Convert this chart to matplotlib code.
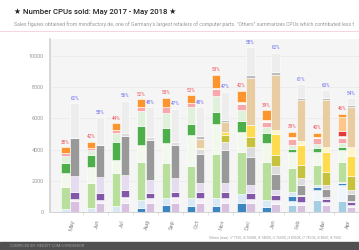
import matplotlib.pyplot as plt
from matplotlib.lines import Line2D
from matplotlib.patches import Rectangle
import numpy as np

months = ['May', 'Jun', 'Jul', 'Aug', 'Sep', 'Oct', 'Nov', 'Dec', 'Jan', 'Feb', 'Mar', 'Apr']

# AMD models, bottom -> top
r5_2400g = [0, 0, 0, 0, 0, 0, 0, 0, 0, 450, 760, 740]
r3_2200g = [0, 0, 0, 0, 0, 0, 0, 0, 0, 290, 680, 1000]
r3_1200 = [0, 0, 0, 255, 465, 430, 400, 600, 360, 300, 160, 110]
r5_1400 = [210, 250, 400, 535, 425, 460, 495, 570, 425, 280, 150, 100]
r5_1600 = [1390, 1640, 2090, 2450, 2240, 2070, 2830, 2700, 2450, 1500, 1300, 1280]
r5_1600x = [890, 1020, 850, 1060, 1270, 1950, 1900, 1280, 1200, 1010, 820, 750]
r7_1700 = [680, 750, 1130, 1210, 960, 700, 810, 700, 650, 210, 230, 210]
r7_1700x = [430, 320, 575, 960, 1000, 1100, 1000, 680, 350, 260, 240, 210]
r7_1800x = [170, 110, 210, 275, 385, 275, 430, 370, 320, 400, 380, 330]
tr_1950x = [0, 0, 0, 0, 0, 0, 70, 160, 150, 90, 70, 140]
r7_2700x = [0, 0, 0, 0, 0, 0, 0, 0, 0, 0, 0, 340]
r5_2600x = [0, 0, 0, 0, 0, 0, 0, 0, 0, 0, 0, 900]
amd_others = [380, 420, 430, 490, 575, 505, 840, 700, 600, 360, 300, 170]

# Intel models, bottom -> top
g4560 = [700, 575, 575, 575, 575, 610, 575, 600, 530, 450, 470, 360]
i3_7100 = [130, 230, 425, 325, 425, 290, 325, 280, 250, 180, 200, 110]
i5_7400 = [450, 450, 425, 320, 320, 370, 420, 380, 350, 400, 200, 200]
i5_7500 = [1040, 1000, 960, 850, 850, 580, 530, 480, 300, 70, 130, 30]
i7_7700k = [2400, 2050, 2500, 2550, 2130, 1870, 2130, 1800, 1000, 650, 500, 450]
i5_7600k = [0, 0, 150, 210, 210, 300, 530, 640, 500, 430, 250, 270]
i5_8400 = [0, 0, 0, 0, 0, 0, 420, 640, 700, 870, 850, 900]
i5_8600k = [0, 0, 0, 0, 0, 110, 170, 750, 1400, 1250, 1270, 1280]
i3_8100 = [0, 0, 0, 0, 0, 0, 0, 0, 250, 280, 320, 590]
i7_8700k = [0, 0, 0, 0, 0, 550, 640, 3030, 3500, 2600, 2980, 2510]
i7_8700 = [0, 0, 0, 0, 0, 170, 150, 160, 170, 100, 110, 150]
intel_others = [2240, 1765, 2090, 1875, 2090, 1850, 1810, 1790, 1230, 900, 530, 430]

amd_pct = [38, 42, 44, 52, 53, 52, 53, 42, 39, 39, 40, 46]
intel_pct = [62, 58, 56, 48, 47, 48, 47, 58, 62, 61, 60, 54]

amd_stack = [
    (r5_2400g, '#a6cee3'), (r3_2200g, '#eef5fb'), (r3_1200, '#3b86c0'),
    (r5_1400, '#d9e8f5'), (r5_1600, '#b8e09c'), (r5_1600x, '#f2f9ec'),
    (r7_1700, '#4daf4a'), (r7_1700x, '#dff1da'), (r7_1800x, '#f7a8ab'),
    (tr_1950x, '#fafafa'), (r7_2700x, '#e2393c'), (r5_2600x, '#fdc78a'),
    (amd_others, '#fd952f'),
]
intel_stack = [
    (g4560, '#d7c0e0'), (i3_7100, '#f5f0f8'), (i5_7400, '#8256a8'),
    (i5_7500, '#e6dcef'), (i7_7700k, '#999999'), (i5_7600k, '#dcdcdc'),
    (i5_8400, '#c7c23d'), (i5_8600k, '#ffdc4f'), (i3_8100, '#fff5c6'),
    (i7_8700k, '#e8cca2'), (i7_8700, '#bdbdbd'), (intel_others, '#ededed'),
]

plt.rcParams['font.family'] = ['Roboto', 'DejaVu Sans']

W, H = 359, 250
fig = plt.figure(figsize=(W / 100, H / 100), dpi=100)
ax = fig.add_axes([50 / W, 37.7 / H, 309 / W, 173.3 / H])
ax.set_facecolor('#f5f5f5')

x = np.arange(len(months))
bw, off = 0.33, 0.18


def stack(pos, layers):
    bottom = np.zeros(len(months))
    for vals, col in layers:
        ax.bar(pos, vals, bw, bottom=bottom, color=col, edgecolor='white',
               linewidth=0.4, zorder=3)
        bottom += np.array(vals)
    return bottom


amd_total = stack(x - off, amd_stack)
intel_total = stack(x + off, intel_stack)

for i in range(len(months)):
    ax.annotate(f'{amd_pct[i]}%', (x[i] - off, amd_total[i]), xytext=(0, 1.8),
                textcoords='offset points', ha='center', va='bottom',
                fontsize=3.3, color='#f0505a')
    ax.annotate(f'{intel_pct[i]}%', (x[i] + off, intel_total[i]), xytext=(0, 1.8),
                textcoords='offset points', ha='center', va='bottom',
                fontsize=3.3, color='#6b6bf0')

ax.set_xlim(-0.8, 11.32)
ax.set_ylim(0, 11070)
ax.set_yticks(range(0, 10001, 2000))
ax.tick_params(axis='y', length=0, pad=4.3, labelsize=4, labelcolor='#999999')
ax.set_xticks(x)
ax.set_xticklabels(months, rotation=80, ha='right', rotation_mode='anchor')
ax.tick_params(axis='x', length=0, pad=5, labelsize=4.2, labelcolor='#8a8a8a')
ax.set_xticks(x + 0.5, minor=True)
ax.tick_params(axis='x', which='minor', length=2, width=0.4, color='#cccccc')
ax.yaxis.grid(True, color='#e9e9e9', lw=0.5, zorder=0)
ax.set_axisbelow(True)
for s in ['top', 'right']:
    ax.spines[s].set_visible(False)
ax.spines['left'].set_color('#d0d0d0')
ax.spines['left'].set_linewidth(1.2)
ax.spines['bottom'].set_color('#cccccc')
ax.spines['bottom'].set_linewidth(0.6)

# header
fig.text(14 / W, 1 - 12 / H, '\u2605 Number CPUs sold: May 2017 - May 2018 \u2605',
         fontsize=5.6, fontweight='medium', color='#222222', va='center')
fig.text(14 / W, 1 - 24 / H,
         'Sales figures obtained from mindfactory.de, one of Germany\'s largest retailers of '
         'computer parts. "Others" summarizes CPUs which contributed less t',
         fontsize=3.7, color='#999999', va='center')
fig.add_artist(Line2D([0, 1], [1 - 30.5 / H] * 2, color='#f5cdd8', lw=0.6))

# footer
fig.text(209 / W, 1 - 237 / H,
         'Others (max): i7 7700, i5 7600K, i5 7400X, i5 7600X, i3 8350K, i7 7800X, i5 8600, i5 7500',
         fontsize=2.4, color='#9a9a9a', va='center')
fig.add_artist(Rectangle((0, 0), 1, 8.3 / H, transform=fig.transFigure,
                         color='#505050', zorder=0))
fig.text(10 / W, 4.2 / H, 'COMPILED BY: REDDIT.COM/U/INGENIOR', fontsize=2.8,
         color='#a0a0a0', va='center')

fig.savefig('out.png', dpi=100)
